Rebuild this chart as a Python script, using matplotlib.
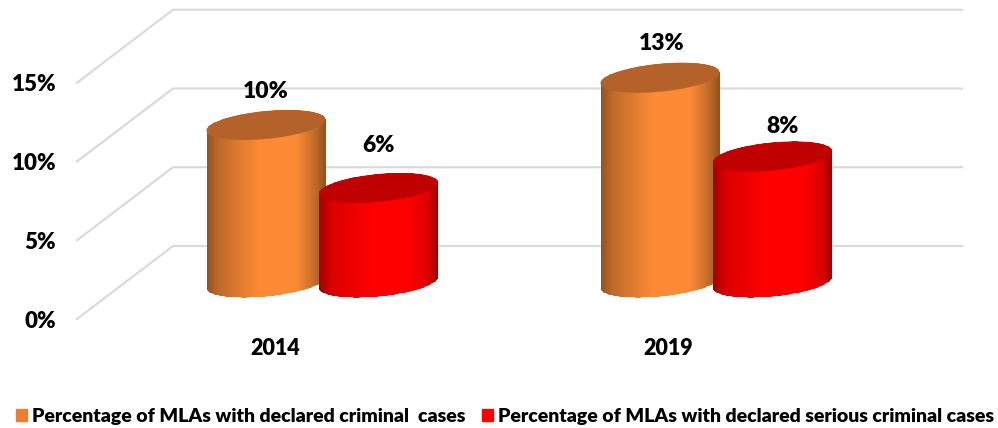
import matplotlib
matplotlib.use('Agg')
import matplotlib.pyplot as plt
import numpy as np
from matplotlib.colors import LinearSegmentedColormap
from matplotlib.patches import Patch, PathPatch
from matplotlib.path import Path

years = ['2014', '2019']
criminal = [10, 13]
serious = [6, 8]
y_ticks = [0, 5, 10, 15]
legend_labels = ['Percentage of MLAs with declared criminal  cases',
                 'Percentage of MLAs with declared serious criminal cases']

plt.rcParams['font.family'] = ['Lato', 'DejaVu Sans']
plt.rcParams['font.weight'] = 800

W, H = 998, 428
fig = plt.figure(figsize=(W / 100, H / 100), dpi=100)
ax = fig.add_axes([77 / W, (H - 319) / H, (962 - 77) / W, 310 / H])

# one unit in pixels, used to size things on the fake 3d floor
px_x = 393
px_y = 15.75
x_lim = (-198 / px_x, 687 / px_x)
y_lim = (0, 310 / px_y)
ax.set_xlim(x_lim)
ax.set_ylim(y_lim)

depth_x = 96 / px_x
depth_y = 73 / px_y
half_w = 59.5 / px_x
shear = 5.5 / px_y
minor = 14 / px_y


def ellipse(cx, cy, t):
    return cx + half_w * np.cos(t), cy + minor * np.sin(t) + shear * np.cos(t)


def cylinder(cx, value, dark, mid, light, top):
    base = depth_y / 2
    t_low = np.linspace(np.pi, 2 * np.pi, 80)
    t_up = np.linspace(0, np.pi, 80)
    bx, by = ellipse(cx, base, t_low)
    ux, uy = ellipse(cx, base + value, t_up)
    body = Path(np.column_stack([np.r_[bx, ux, bx[0]], np.r_[by, uy, by[0]]]), closed=True)

    cmap = LinearSegmentedColormap.from_list(
        'c', [(0, dark), (0.1, mid), (0.45, light), (0.75, light), (0.92, mid), (1, dark)])
    clip = PathPatch(body, fc='none', ec='none', transform=ax.transData)
    ax.add_patch(clip)
    xs = np.linspace(cx - half_w, cx + half_w, 121)
    grad = np.linspace(0, 1, 120).reshape(1, -1)
    mesh = ax.pcolormesh(xs, [base - 2, base + value + 2], grad, cmap=cmap, vmin=0, vmax=1,
                         shading='flat', zorder=3)
    mesh.set_clip_path(clip)
    t = np.linspace(0, 2 * np.pi, 160)
    tx, ty = ellipse(cx, base + value, t)
    ax.fill(tx, ty, color=top, lw=0, zorder=4)


# floor and wall gridlines
for v in y_ticks:
    ax.plot([x_lim[0], x_lim[0] + depth_x, x_lim[1]], [v, v + depth_y, v + depth_y],
            color='#D9D9D9', lw=1.5, zorder=1, clip_on=False)

offset_a = -9 / px_x
offset_b = 103.5 / px_x
gap = 394 / px_x
lift_a = [2.1, 2.15]
lift_b = [2.7, 1.9]
nudge_a = [0, 2 / px_x]
nudge_b = [0, 10 / px_x]

for i in range(len(years)):
    xa = i * gap + offset_a
    xb = i * gap + offset_b
    cylinder(xa, criminal[i], '#94521E', '#BE6A2A', '#FF8A35', '#B5622A')
    cylinder(xb, serious[i], '#A00000', '#DC0000', '#FF0000', '#C00000')
    ax.text(xa + nudge_a[i], depth_y / 2 + criminal[i] + lift_a[i], f'{criminal[i]}%',
            ha='center', va='center', fontsize=16.5, zorder=5)
    ax.text(xb + nudge_b[i], depth_y / 2 + serious[i] + lift_b[i], f'{serious[i]}%',
            ha='center', va='center', fontsize=16.5, zorder=5)

ax.set_xlim(x_lim)
ax.set_ylim(y_lim)

ax.set_xticks(range(len(years)))
ax.set_xticklabels(years, fontsize=15.5)
ax.set_yticks(y_ticks)
ax.set_yticklabels([f'{v}%' for v in y_ticks], fontsize=16)
ax.tick_params(length=0)
ax.tick_params(axis='x', pad=14)
ax.tick_params(axis='y', pad=15)
for s in ax.spines.values():
    s.set_visible(False)
ax.patch.set_alpha(0)

handles = [Patch(color='#ED7D31'), Patch(color='#FF0000')]
fig.legend(handles, legend_labels, ncol=2, frameon=False, fontsize=14,
           loc='lower left', bbox_to_anchor=(16 / W, 3 / H), borderaxespad=0, borderpad=0,
           handlelength=0.57, handleheight=0.57, handletextpad=0.26, columnspacing=0.85)

fig.savefig('out.png', dpi=100)
